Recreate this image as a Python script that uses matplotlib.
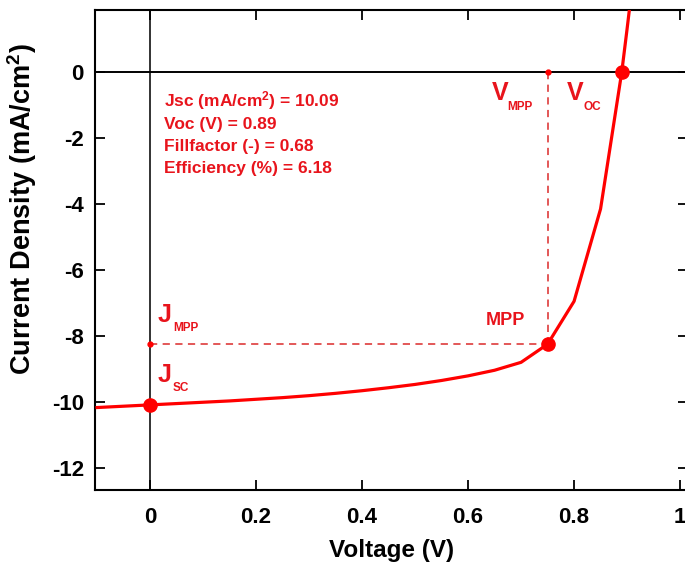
import matplotlib
matplotlib.use("Agg")
import matplotlib.pyplot as plt

# ── DATA ──────────────────────────────────────────────────
voltage = [-0.10, -0.05, 0.00, 0.05, 0.10, 0.15, 0.20, 0.25, 0.30, 0.35,
           0.40, 0.45, 0.50, 0.55, 0.60, 0.65, 0.70, 0.75, 0.80, 0.85,
           0.89, 0.90, 0.95]
current = [-10.17, -10.13, -10.09, -10.05, -10.01, -9.97, -9.92, -9.87, -9.81, -9.74,
           -9.66, -9.57, -9.47, -9.35, -9.21, -9.04, -8.80, -8.25, -6.95, -4.15,
           0.00, 1.30, 8.00]

jsc, voc, ff, eff = 10.09, 0.89, 0.68, 6.18
v_mpp, j_mpp = 0.75, -8.25

x_ticks = [0, 0.2, 0.4, 0.6, 0.8, 1.0]
x_ticklabels = ["0", "0.2", "0.4", "0.6", "0.8", "1"]
y_ticks = [0, -2, -4, -6, -8, -10, -12]

# ── STYLE ─────────────────────────────────────────────────
plt.rcParams["font.family"] = ["Liberation Sans", "DejaVu Sans"]
plt.rcParams["font.weight"] = "bold"
plt.rcParams["axes.unicode_minus"] = False
plt.rcParams["mathtext.fontset"] = "custom"
plt.rcParams["mathtext.rm"] = "Liberation Sans:bold"
plt.rcParams["mathtext.bf"] = "Liberation Sans:bold"
plt.rcParams["mathtext.default"] = "bf"

red = "#ff0000"
txt_red = "#e8141c"
dash_red = "#e04a4a"

fig = plt.figure(figsize=(6.85, 5.63), dpi=100)
# right spine sits just past the picture edge, as in the original crop
ax = fig.add_axes([95 / 685, 1 - 490 / 563, (688 - 95) / 685, 480 / 563])

# axes lines through origin
ax.axvline(0, color="#333333", lw=1.4, zorder=1)
ax.axhline(0, color="black", lw=1.4, zorder=1)

# MPP guide lines
ax.plot([0, v_mpp], [j_mpp, j_mpp], ls=(0, (4, 3)), color=dash_red, lw=1.3, zorder=2)
ax.plot([v_mpp, v_mpp], [0, j_mpp], ls=(0, (4, 3)), color=dash_red, lw=1.3, zorder=2)
ax.plot([0, v_mpp], [j_mpp, 0], "o", color=red, ms=3.5, ls="none", zorder=3)

# J-V curve
ax.plot(voltage, current, color=red, lw=2.3, zorder=4)
ax.plot([0, v_mpp, voc], [-jsc, j_mpp, 0], "o", color=red, ms=9.5, ls="none", zorder=5)

# stats
stats = [f"Jsc (mA/cm$^2$) = {jsc:.2f}",
         f"Voc (V) = {voc:.2f}",
         f"Fillfactor (-) = {ff:.2f}",
         f"Efficiency (%) = {eff:.2f}"]
for i, s in enumerate(stats):
    ax.text(0.027, -1.05 - i * 0.67, s, color=txt_red, fontsize=12.5,
            fontweight="bold", va="baseline", ha="left")

# labels with subscripts
def sub_label(x, y, big, small, dx, dy):
    ax.text(x, y, big, color=txt_red, fontsize=18, fontweight="bold", va="baseline", ha="left")
    ax.annotate(small, (x, y), xytext=(dx, -dy), textcoords="offset points",
                color=txt_red, fontsize=8.5, fontweight="bold", va="baseline", ha="left")

sub_label(0.644, -0.85, "V", "MPP", 11.5, 7.2)
sub_label(0.787, -0.85, "V", "OC", 12.0, 7.2)
sub_label(0.015, -7.58, "J", "MPP", 10.8, 6.5)
sub_label(0.015, -9.39, "J", "SC", 10.8, 6.5)
ax.text(0.633, -7.67, "MPP", color=txt_red, fontsize=13, fontweight="bold", ha="left", va="baseline")

# axes
ax.set_xlim(-0.104, 1.015)
ax.set_ylim(-12.67, 1.88)
ax.set_xticks(x_ticks)
ax.set_xticklabels(x_ticklabels)
ax.set_yticks(y_ticks)
ax.tick_params(direction="in", length=7, width=1.3, top=True, right=True,
               labelsize=16, pad=8)
ax.tick_params(axis="x", pad=12)
for lab in ax.get_xticklabels() + ax.get_yticklabels():
    lab.set_fontweight("bold")
for sp in ax.spines.values():
    sp.set_linewidth(1.5)

ax.set_xlabel("Voltage (V)", fontsize=17.5, fontweight="bold", labelpad=8)
ax.set_ylabel("Current Density (mA/cm$^2$)", fontsize=19.5, fontweight="bold")
ax.yaxis.set_label_coords(-0.094, 0.585)

fig.savefig("out.png", dpi=100)
